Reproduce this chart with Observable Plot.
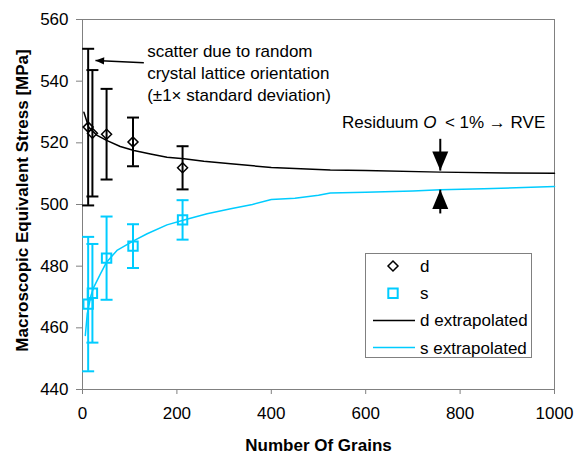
<!DOCTYPE html>
<html>
<head>
<meta charset="utf-8">
<script src="https://cdn.jsdelivr.net/npm/d3@7"></script>
<script src="https://cdn.jsdelivr.net/npm/@observablehq/plot@0.6"></script>
<style>
  html, body { margin: 0; padding: 0; background: white; }
  #wrap { position: relative; width: 574px; height: 458px; }
  #legend { position: absolute; left: 364px; top: 252px; }
</style>
</head>
<body>
<div id="wrap"></div>
<script>
// ---------- data ----------
const grains = [12, 21, 51, 107, 212];
const dMean  = [525.1, 523.1, 522.8, 520.3, 511.9];
const dStd   = [25.4, 20.5, 14.7, 7.9, 7.0];
const sMean  = [467.7, 471.2, 482.6, 486.5, 495.0];
const sStd   = [21.8, 16.0, 13.5, 7.1, 6.4];

const dExtrapX = [3, 13, 31, 51, 80, 109, 144, 179, 215, 257, 314, 400, 525, 600, 758, 900, 1000];
const dExtrapY = [529.9, 525.1, 522.4, 520.8, 518.8, 517.5, 516.4, 515.3, 514.8, 514.0, 513.2, 512.0, 511.2, 511.0, 510.5, 510.2, 510.1];

const sExtrapX = [6, 10, 18, 24, 38, 51, 73, 109, 137, 179, 215, 264, 314, 360, 400, 450, 500, 525, 600, 700, 758, 850, 1000];
const sExtrapY = [457.5, 464.5, 470.5, 473.2, 477.5, 481.3, 485.1, 488.3, 490.5, 493.4, 495.0, 497.0, 498.6, 500.0, 501.6, 502.0, 503.0, 503.7, 504.0, 504.4, 504.8, 505.1, 505.8];

const xTicks = [0, 200, 400, 600, 800, 1000];
const yTicks = [440, 460, 480, 500, 520, 540, 560];

const xLabel = "Number Of Grains";
const yLabel = "Macroscopic Equivalent Stress [MPa]";
const legendLabels = ["d", "s", "d extrapolated", "s extrapolated"];

// annotations (in data coordinates)
const scatterNote = ["scatter due to random\ncrystal lattice orientation\n(\u00b11\u00d7 standard deviation)"];
const scatterNoteAt = {x: 137, y: 543.1};
const scatterArrow = [{x1: 130, y1: 546.0, x2: 27.5, y2: 546.7}];
const residNote = ["Residuum O\u2002< 1% \u2192 RVE"];
const residNoteAt = {x: 765, y: 526.7};
const rveArrows = [
  {x1: 758, y1: 521.3, x2: 758, y2: 511.0, dir: 0},
  {x1: 758, y1: 497.1, x2: 758, y2: 504.8, dir: 180}
];

// ---------- styling ----------
const FONT = "'Liberation Sans', Arial, Helvetica, sans-serif";
const BLACK = "#000000";
const CYAN = "#00ccff";
const GRAY = "#808080";

// ---------- derived tables ----------
const dPts = grains.map((g, i) => ({x: g, y: dMean[i], lo: dMean[i] - dStd[i], hi: dMean[i] + dStd[i]}));
const sPts = grains.map((g, i) => ({x: g, y: sMean[i], lo: sMean[i] - sStd[i], hi: sMean[i] + sStd[i]}));
const dLine = dExtrapX.map((x, i) => ({x, y: dExtrapY[i]}));
const sLine = sExtrapX.map((x, i) => ({x, y: sExtrapY[i]}));

// custom symbols
const capSymbol = {draw(ctx, size) { const r = Math.sqrt(size / Math.PI); ctx.moveTo(-r, 0); ctx.lineTo(r, 0); }};
const headSymbol = {draw(ctx, size) { const r = Math.sqrt(size / Math.PI); ctx.moveTo(0, 0); ctx.lineTo(-r, -2.4 * r); ctx.lineTo(r, -2.4 * r); ctx.closePath(); }};

const errorBars = (pts, color) => [
  Plot.ruleX(pts, {x: "x", y1: "lo", y2: "hi", stroke: color, strokeWidth: 2}),
  Plot.dot(pts, {x: "x", y: "lo", symbol: capSymbol, r: 6, fill: "none", stroke: color, strokeWidth: 2}),
  Plot.dot(pts, {x: "x", y: "hi", symbol: capSymbol, r: 6, fill: "none", stroke: color, strokeWidth: 2})
];

const chart = Plot.plot({
  width: 574,
  height: 458,
  marginLeft: 82,
  marginRight: 20,
  marginTop: 19,
  marginBottom: 69,
  style: {fontFamily: FONT, fontSize: "17px", background: "white", color: "black", overflow: "visible"},
  x: {domain: [0, 1000]},
  y: {domain: [440, 560]},
  marks: [
    Plot.frame({stroke: GRAY, strokeWidth: 1}),
    Plot.axisX({ticks: xTicks, tickFormat: d => String(d), tickSize: 5, tickPadding: 12, label: null, stroke: GRAY, fill: BLACK, fontSize: 17}),
    Plot.axisY({ticks: yTicks, tickFormat: d => String(d), tickSize: 6, tickPadding: 8, label: null, stroke: GRAY, fill: BLACK, fontSize: 17}),
    Plot.text([xLabel], {frameAnchor: "bottom", textAnchor: "middle", lineAnchor: "middle", dy: 56, fontWeight: "bold", fontSize: 17, fill: BLACK}),
    Plot.text([yLabel], {frameAnchor: "left", textAnchor: "middle", lineAnchor: "middle", dx: -60, dy: -4, rotate: -90, fontWeight: "bold", fontSize: 17, fill: BLACK}),

    Plot.line(dLine, {x: "x", y: "y", stroke: BLACK, strokeWidth: 1.5}),
    Plot.line(sLine, {x: "x", y: "y", stroke: CYAN, strokeWidth: 1.5}),

    ...errorBars(dPts, BLACK),
    ...errorBars(sPts, CYAN),
    Plot.dot(dPts, {x: "x", y: "y", symbol: "diamond2", r: 4.5, fill: "none", stroke: BLACK, strokeWidth: 1.5}),
    Plot.dot(sPts, {x: "x", y: "y", symbol: "square", r: 5.3, fill: "none", stroke: CYAN, strokeWidth: 2}),

    // annotations
    Plot.text(scatterNote, {x: () => scatterNoteAt.x, y: () => scatterNoteAt.y, textAnchor: "start", lineAnchor: "middle", lineHeight: 1.3, fontSize: 17, fill: BLACK}),
    Plot.link(scatterArrow, {x1: "x1", y1: "y1", x2: "x2", y2: "y2", stroke: BLACK, strokeWidth: 1.5}),
    Plot.dot(scatterArrow, {x: "x2", y: "y2", symbol: headSymbol, r: 3.6, rotate: 93, fill: BLACK, stroke: "none"}),

    Plot.text(residNote, {x: () => residNoteAt.x, y: () => residNoteAt.y, textAnchor: "middle", lineAnchor: "middle", fontSize: 17, fill: BLACK}),
    Plot.link(rveArrows, {x1: "x1", y1: "y1", x2: "x2", y2: "y2", stroke: BLACK, strokeWidth: 2}),
    Plot.dot(rveArrows, {x: "x2", y: "y2", symbol: headSymbol, r: 8, rotate: "dir", fill: BLACK, stroke: "none"})
  ]
});

// italic "O" in the residuum note
chart.querySelectorAll("text").forEach(t => {
  if (t.textContent.startsWith("Residuum")) {
    const rest = t.textContent.slice("Residuum O".length);
    while (t.firstChild) t.removeChild(t.firstChild);
    const ns = "http://www.w3.org/2000/svg";
    t.appendChild(document.createTextNode("Residuum "));
    const o = document.createElementNS(ns, "tspan");
    o.setAttribute("font-style", "italic");
    o.textContent = "O";
    t.appendChild(o);
    t.appendChild(document.createTextNode(rest));
  }
});

const wrap = document.getElementById("wrap");
wrap.appendChild(chart);

// ---------- legend (inside plot area) ----------
const leg = d3.select(wrap).append("svg")
  .attr("id", "legend").attr("width", 169).attr("height", 107)
  .style("font-family", FONT).style("font-size", "17px");
leg.append("rect").attr("x", 1.5).attr("y", 1.5).attr("width", 166).attr("height", 104)
  .attr("fill", "white").attr("stroke", GRAY).attr("stroke-width", 1);
const rowY = i => 14 + i * 27.2;
const symX = 29, lineX1 = 9, lineX2 = 51, textX = 56;
legendLabels.forEach((lab, i) => {
  const g = leg.append("g");
  if (i === 0) {
    g.append("path").attr("transform", `translate(${symX},${rowY(i)})`)
      .attr("d", d3.symbol(d3.symbolDiamond2, Math.PI * 4.5 * 4.5)())
      .attr("fill", "none").attr("stroke", BLACK).attr("stroke-width", 1.5);
  } else if (i === 1) {
    g.append("path").attr("transform", `translate(${symX},${rowY(i)})`)
      .attr("d", d3.symbol(d3.symbolSquare, Math.PI * 5.3 * 5.3)())
      .attr("fill", "none").attr("stroke", CYAN).attr("stroke-width", 2);
  } else {
    g.append("line").attr("x1", lineX1).attr("x2", lineX2).attr("y1", rowY(i)).attr("y2", rowY(i))
      .attr("stroke", i === 2 ? BLACK : CYAN).attr("stroke-width", 1.5);
  }
  g.append("text").attr("x", textX).attr("y", rowY(i)).attr("dy", "0.35em").attr("fill", BLACK).text(lab);
});
</script>
</body>
</html>
